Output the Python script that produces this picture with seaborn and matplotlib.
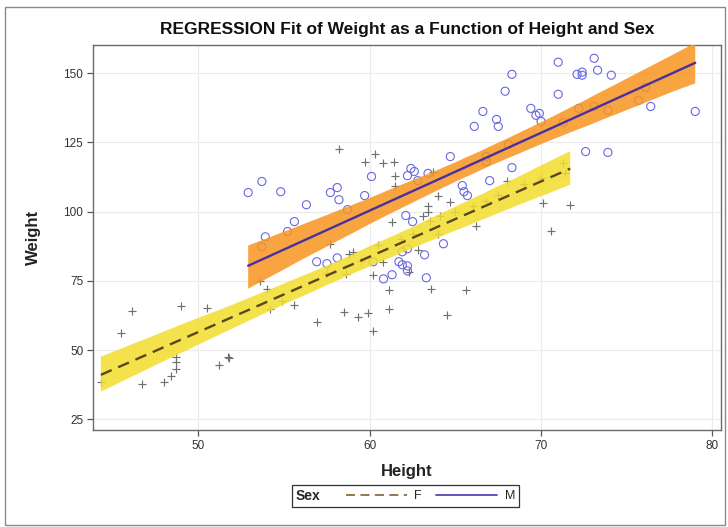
import numpy as np
import pandas as pd
import seaborn as sns
import matplotlib
matplotlib.use("Agg")
import matplotlib.pyplot as plt
from matplotlib.lines import Line2D
from matplotlib.offsetbox import HPacker
from matplotlib.patches import Rectangle

# ---------------- data ----------------
f_height = [44.3, 45.5, 46.1, 46.7, 48.0, 48.4, 48.7, 48.7, 48.7, 49.0,
            50.5, 51.2, 51.7, 51.8, 53.6, 54.0, 54.2, 54.9, 55.6, 56.9,
            58.5, 59.3, 57.7, 58.6, 58.8, 59.9, 60.2, 61.1, 61.1, 60.8,
            60.2, 63.6, 64.5, 65.6, 62.3, 64.0, 70.6, 70.1, 71.7, 60.3,
            59.7, 60.8, 61.4, 61.5, 63.7, 64.0, 63.4, 63.4, 63.1, 63.5,
            64.1, 61.3, 66.2, 64.7, 68.0, 58.2, 59.0, 61.5,
            57.5, 59.5, 60.5, 61.8, 62.5, 62.8, 65.0, 66.0, 66.8, 67.5,
            69.0, 70.0, 71.3, 71.4]
f_weight = [38.4, 56.2, 64.1, 37.7, 38.4, 40.6, 43.1, 45.7, 47.5, 65.9,
            65.2, 44.6, 47.5, 47.1, 75.0, 72.1, 64.9, 67.8, 66.3, 60.1,
            63.8, 62.0, 88.4, 77.5, 84.8, 63.4, 56.9, 64.9, 71.7, 81.9,
            77.2, 72.1, 62.7, 71.7, 78.3, 92.0, 93.1, 103.3, 102.5, 121.0,
            118.1, 117.4, 118.1, 113.0, 114.5, 105.8, 102.2, 100.0, 98.6, 96.7,
            98.6, 96.4, 94.9, 103.6, 111.2, 122.5, 85.5, 109.1,
            78.0, 82.0, 88.0, 90.0, 92.0, 86.0, 100.0, 102.0, 104.0, 106.0,
            110.0, 112.0, 117.4, 113.8]

m_height = [52.9, 53.7, 54.8, 56.3, 55.6, 55.2, 57.7, 58.1, 58.2, 58.7,
            53.9, 71.0, 73.1, 73.3, 72.1, 72.4, 72.4, 74.1, 68.3, 67.9,
            71.0, 66.6, 66.1, 67.4, 67.5, 69.4, 69.7, 69.9, 70.0, 79.0,
            76.1, 75.7, 76.4, 73.9, 73.1, 72.2, 71.3, 72.6, 73.9, 68.1,
            68.3, 64.7, 66.8, 66.8, 62.4, 62.6, 62.2, 62.8, 63.4, 60.1,
            59.7, 65.4, 65.5, 65.7, 67.0, 62.1, 62.5, 60.2, 60.8, 61.3,
            61.7, 61.9, 62.2, 61.9, 63.2, 62.2, 62.2, 63.3, 64.3, 53.7,
            56.9, 57.5, 58.1]
m_weight = [106.9, 110.9, 107.2, 102.5, 96.4, 92.8, 106.9, 108.7, 104.3, 100.7,
            90.9, 154.0, 155.4, 151.1, 149.6, 150.4, 149.3, 149.3, 149.6, 143.5,
            142.4, 136.2, 130.8, 133.3, 130.8, 137.3, 134.8, 135.5, 132.6, 136.2,
            144.9, 140.2, 138.0, 136.6, 138.0, 137.3, 132.2, 121.7, 121.4, 124.3,
            115.9, 119.9, 119.9, 118.1, 115.6, 114.5, 113.0, 111.2, 113.8, 112.7,
            105.8, 109.4, 107.2, 105.8, 111.2, 98.6, 96.4, 81.9, 75.7, 77.2,
            81.9, 85.5, 86.6, 80.8, 84.4, 80.4, 78.6, 76.1, 88.4, 87.3,
            81.9, 81.2, 83.3]

x_ticks = [50, 60, 70, 80]
y_ticks = [25, 50, 75, 100, 125, 150]
title = "REGRESSION Fit of Weight as a Function of Height and Sex"

# ---------------- styling ----------------
sns.set_theme(style="whitegrid")
plt.rcParams["font.family"] = ["Liberation Sans", "DejaVu Sans"]

F_BAND = "#f3dd2c"
M_BAND = "#f7951f"
F_LINE = "#5a4720"
M_LINE = "#4a2fa0"
F_MARK = "#707070"
M_MARK = "#6868e0"

df = pd.DataFrame({
    "Height": f_height + m_height,
    "Weight": f_weight + m_weight,
    "Sex": ["F"] * len(f_height) + ["M"] * len(m_height),
})
dff = df[df.Sex == "F"]
dfm = df[df.Sex == "M"]

fig = plt.figure(figsize=(7.28, 5.27), dpi=100)
fig.patch.set_facecolor("white")
ax = fig.add_axes([0.1277, 0.184, 0.8626, 0.7306])
ax.set_facecolor("white")

# scatter
sns.scatterplot(data=dff, x="Height", y="Weight", marker="+", color=F_MARK,
                s=40, linewidth=0.85, ax=ax, zorder=2, legend=False)
sns.scatterplot(data=dfm, x="Height", y="Weight", marker="o",
                facecolors="none", edgecolors=M_MARK, s=34, linewidth=0.8,
                ax=ax, zorder=2, legend=False)

# regression fits with confidence bands
sns.regplot(data=dff, x="Height", y="Weight", scatter=False, ci=95,
            n_boot=2000, seed=3, color=F_BAND, truncate=True,
            line_kws=dict(color=F_LINE, lw=1.7, dashes=(5, 3), zorder=6), ax=ax)
band = ax.collections[-1]
band.set_facecolor(F_BAND); band.set_alpha(0.85); band.set_edgecolor("none"); band.set_zorder(3)

sns.regplot(data=dfm, x="Height", y="Weight", scatter=False, ci=95,
            n_boot=2000, seed=3, color=M_BAND, truncate=True,
            line_kws=dict(color=M_LINE, lw=1.7, zorder=7), ax=ax)
band = ax.collections[-1]
band.set_facecolor(M_BAND); band.set_alpha(0.85); band.set_edgecolor("none"); band.set_zorder(4)

# axes
ax.set_xlim(43.84, 80.5)
ax.set_ylim(21.1, 160.2)
ax.set_xticks(x_ticks)
ax.set_yticks(y_ticks)
ax.grid(True, color="#ebebeb", lw=0.8)
for s in ax.spines.values():
    s.set_color("#6a6a6a")
    s.set_linewidth(1.0)
ax.tick_params(axis="both", which="major", direction="out", length=4, width=0.9,
               color="#555555", labelsize=8.5, labelcolor="#333333",
               left=True, bottom=True, pad=3)
ax.set_xlabel("Height", fontsize=12, fontweight="bold", color="#222222", labelpad=9)
ax.set_ylabel("Weight", fontsize=12, fontweight="bold", color="#222222", labelpad=16)
ax.set_title(title, fontsize=12.5, fontweight="bold", color="#111111", pad=8)

# legend: "Sex" title on the left of the entries
h_f = Line2D([], [], color="#8a6d3f", lw=1.3, dashes=(5, 3))
h_m = Line2D([], [], color="#5048b8", lw=1.3)
leg = fig.legend([h_f, h_m], ["F", "M"], title="Sex", loc="center",
                 bbox_to_anchor=(0.557, 0.059), ncol=2, frameon=True,
                 fontsize=9, title_fontproperties={"weight": "bold", "size": 10},
                 handlelength=4.9, handletextpad=0.6, columnspacing=1.1,
                 fancybox=False, edgecolor="#333333", borderpad=0.35,
                 framealpha=1)
leg.get_frame().set_linewidth(0.9)
box = HPacker(pad=leg.borderpad * leg._fontsize, sep=18, align="center",
              children=[leg._legend_title_box, leg._legend_handle_box])
box.set_figure(fig)
box.axes = leg.axes
leg._legend_box = box
box.set_offset(leg._findoffset)

# outer frame of the image
fig.patches.append(Rectangle((0.007, 0.004), 0.989, 0.983, transform=fig.transFigure,
                             fill=False, ec="#8a8a8a", lw=1.0))

fig.savefig("out.png", dpi=100, facecolor="white")
